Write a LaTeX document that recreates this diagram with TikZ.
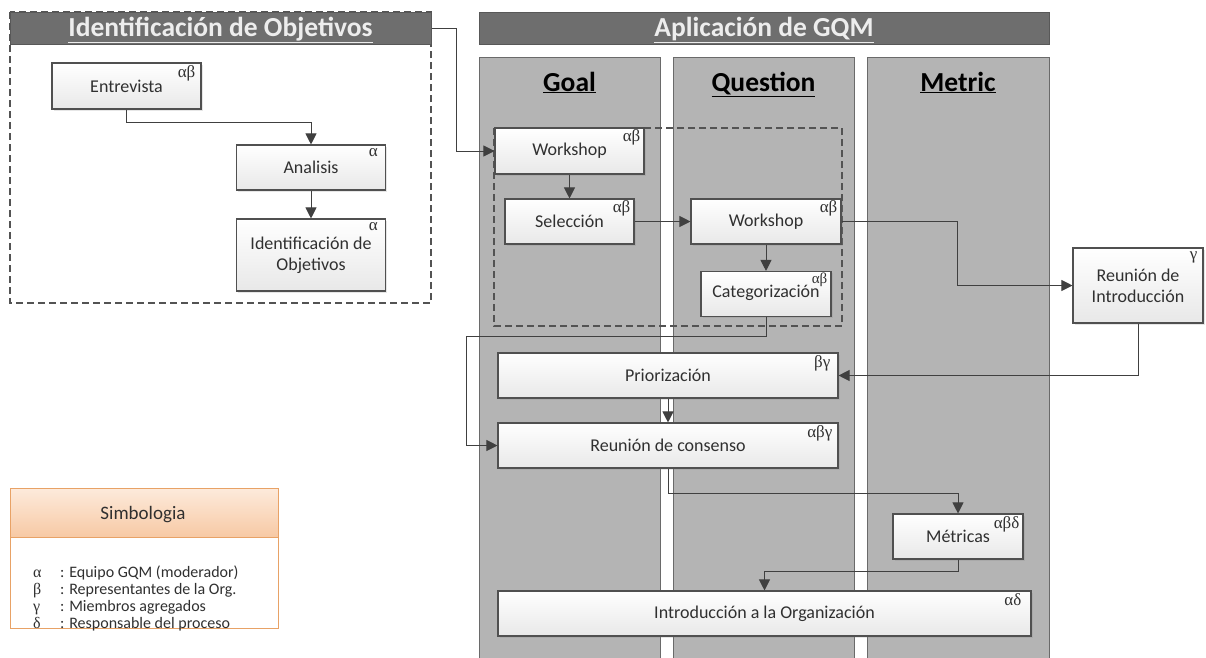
\documentclass[tikz,border=0pt]{standalone}
\usepackage{fontspec}
\setmainfont{Carlito}
\newfontfamily\grk{Liberation Serif}
\usetikzlibrary{arrows.meta,shadows}
\definecolor{lanefill}{HTML}{B4B4B4}
\definecolor{laneline}{HTML}{6A6A6A}
\definecolor{barfill}{HTML}{6E6E6E}
\definecolor{barline}{HTML}{585858}
\definecolor{boxline}{HTML}{505050}
\definecolor{linec}{HTML}{404040}
\definecolor{orline}{HTML}{E8A266}
\definecolor{ortop}{HTML}{FDEADB}
\definecolor{orbot}{HTML}{F7C9A4}
\definecolor{txt}{HTML}{303030}
\begin{document}
\begin{tikzpicture}[x=1pt,y=-1pt,
  box/.style={draw=boxline, line width=1.1pt, top color=white, bottom color=black!9,
    text=txt, font=\fontsize{18}{21}\selectfont, align=center, inner sep=2pt,
    drop shadow={shadow xshift=1.5pt, shadow yshift=-1.5pt, opacity=0.2}},
  sup/.style={font=\grk\fontsize{17}{17}\selectfont, text=txt, inner sep=0pt, anchor=north east},
  lane/.style={draw=laneline, line width=1.1pt, fill=lanefill, anchor=north west, inner sep=0pt},
  hdr/.style={font=\bfseries\fontsize{27.5}{30}\selectfont, text=black, anchor=base},
  titlebar/.style={draw=barline, line width=1pt, fill=barfill, anchor=north west, inner sep=0pt},
  titletext/.style={text=black!7, font=\bfseries\fontsize{27.5}{30}\selectfont, anchor=base, inner sep=0pt},
  dashbox/.style={draw=linec!90, line width=1.2pt, dash pattern=on 7pt off 4pt},
  conn/.style={draw=linec, line width=1pt, -{Triangle[length=11pt,width=11pt]}},
  legtxt/.style={anchor=base west, text=txt, font=\fontsize{16}{17}\selectfont, inner sep=0pt},
  leggrk/.style={anchor=base west, text=txt, font=\grk\fontsize{16}{17}\selectfont, inner sep=0pt}
]
\useasboundingbox (0,0) rectangle (1206,657);
\clip (0,0) rectangle (1206,657);

% lanes
\node[lane, minimum width=181pt, minimum height=620pt] (goallane) at (479,57) {};
\node[lane, minimum width=181pt, minimum height=620pt] (qlane) at (673,57) {};
\node[lane, minimum width=182pt, minimum height=620pt] (mlane) at (867,57) {};
\node[hdr] (goalh) at (569.5,91) {\underline{Goal}};
\node[hdr] (qh) at (763.5,91) {\underline{Question}};
\node[hdr] (mh) at (958,91) {\underline{Metric}};

% title bars and dashed frames
\draw[dashbox] (10,12) rectangle (431,303);
\node[titlebar, minimum width=421pt, minimum height=32pt] (titlel) at (10,12) {};
\node[titletext] (titlelt) at (220.5,36) {\underline{Identificación de Objetivos}};
\node[titlebar, minimum width=570pt, minimum height=32pt] (titler) at (479,12) {};
\node[titletext] (titlert) at (764,36) {\underline{Aplicación de GQM}};
\draw[dashbox] (494,128) rectangle (842,326);

% left boxes
\node[box, minimum width=149pt, minimum height=46pt] (entrevista) at (126.5,86) {Entrevista};
\node[box, minimum width=149pt, minimum height=45pt] (analisis) at (311,167.5) {Analisis};
\node[box, minimum width=149pt, minimum height=72pt] (idobj) at (311,255) {Identificación de\\Objetivos};

% GQM boxes
\node[box, minimum width=149pt, minimum height=46pt] (wsg) at (569.5,151) {Workshop};
\node[box, minimum width=129pt, minimum height=45pt] (sel) at (569.5,221.5) {Selección};
\node[box, minimum width=150pt, minimum height=45pt] (wsq) at (766,221.5) {Workshop};
\node[box, minimum width=130pt, minimum height=45pt, text depth=6pt] (cat) at (766,294) {Categorización};
\node[box, minimum width=130pt, minimum height=75pt] (reun) at (1138,285.5) {Reunión de\\Introducción};
\node[box, minimum width=340pt, minimum height=45pt] (prior) at (668,375.5) {Priorización};
\node[box, minimum width=340pt, minimum height=45pt] (cons) at (668,445.5) {Reunión de consenso};
\node[box, minimum width=130pt, minimum height=45pt] (met) at (958,536.5) {Métricas};
\node[box, minimum width=533pt, minimum height=45pt] (intro) at (764.5,613.5) {Introducción a la Organización};

% superscripts
\node[sup] (s1) at ([shift={(-6,3)}]entrevista.north east) {αβ};
\node[sup] (s2) at ([shift={(-8,4)}]analisis.north east) {α};
\node[sup] (s3) at ([shift={(-8,4)}]idobj.north east) {α};
\node[sup] (s4) at ([shift={(-4,2)}]wsg.north east) {αβ};
\node[sup] (s5) at ([shift={(-4,2)}]sel.north east) {αβ};
\node[sup] (s6) at ([shift={(-4,2)}]wsq.north east) {αβ};
\node[sup, font=\grk\fontsize{15}{15}\selectfont] (s7) at ([shift={(-4,1.5)}]cat.north east) {αβ};
\node[sup] (s8) at ([shift={(-6,4)}]reun.north east) {γ};
\node[sup] (s9) at ([shift={(-8,3)}]prior.north east) {βγ};
\node[sup] (s10) at ([shift={(-6,3)}]cons.north east) {αβγ};
\node[sup] (s11) at ([shift={(-4,3)}]met.north east) {αβδ};
\node[sup] (s12) at ([shift={(-10,3)}]intro.north east) {αδ};

% connectors
\draw[conn] (entrevista.south) -- ++(0,13) -| (analisis.north);
\draw[conn] (analisis.south) -- (idobj.north);
\draw[conn] (titlel.east) -- ++(24,0) |- (wsg.west);
\draw[conn] (wsg.south) -- (sel.north);
\draw[conn] (sel.east) -- (wsq.west);
\draw[conn] (wsq.south) -- (cat.north);
\draw[conn] (wsq.east) -- ++(116,0) |- (reun.west);
\draw[conn] (reun.south) |- (prior.east);
\draw[conn] (cat.south) -- ++(0,19.5) -- ++(-300,0) |- (cons.west);
\draw[conn] (prior.south) -- (cons.north);
\draw[conn] (cons.south) -- ++(0,25) -| (met.north);
\draw[conn] (met.south) -- ++(0,12) -| (intro.north);

% legend
\node[draw=orline, line width=1.1pt, fill=white, anchor=north west, minimum width=268pt, minimum height=140pt, inner sep=0pt] (legbody) at (10,488) {};
\node[draw=orline, line width=1.1pt, top color=ortop, bottom color=orbot, anchor=north west, minimum width=268pt, minimum height=49pt, inner sep=0pt] (leghead) at (10,488) {};
\node[anchor=base, text=txt, font=\fontsize{19}{21}\selectfont, inner sep=0pt] (legtitle) at (143,519) {Simbologia};
\node[leggrk] (ga) at (33,577) {α};
\node[legtxt] (ta) at (60,577) {: Equipo GQM (moderador)};
\node[leggrk] (gb) at (33,594) {β};
\node[legtxt] (tb) at (60,594) {: Representantes de la Org.};
\node[leggrk] (gc) at (33,611) {γ};
\node[legtxt] (tc) at (60,611) {: Miembros agregados};
\node[leggrk] (gd) at (33,628) {δ};
\node[legtxt] (td) at (60,628) {: Responsable del proceso};
\end{tikzpicture}
\end{document}
